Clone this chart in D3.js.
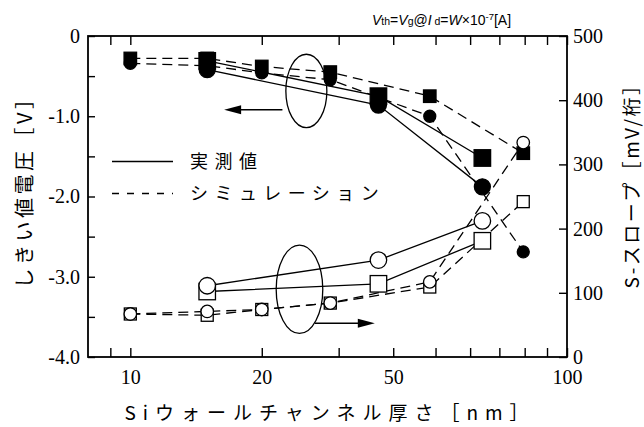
<!DOCTYPE html>
<html>
<head>
<meta charset="utf-8">
<script src="https://cdn.jsdelivr.net/npm/d3@7"></script>
<style>
  body { margin: 0; background: #fff; }
  svg { display: block; }
  .tick text { font-family: "Liberation Serif", serif; font-size: 20px; fill: #000; }
  .jp { font-family: "Noto Sans CJK JP", sans-serif; fill: #000; }
</style>
</head>
<body>
<svg width="644" height="427"></svg>
<script>
// measured (solid lines), Si wall channel thickness [nm]
var xMeas = [15, 37, 64];
var vthMeasSq = [-0.31, -0.75, -1.52];
var vthMeasCi = [-0.42, -0.86, -1.88];
var sMeasSq = [102, 114, 181];
var sMeasCi = [111, 151, 212];

// simulation (dashed lines)
var xSim = [10, 15, 20, 28.7, 48.5, 79.4];
var vthSimSq = [-0.28, -0.28, -0.38, -0.45, -0.75, -1.46];
var vthSimCi = [-0.34, -0.37, -0.46, -0.545, -1.0, -2.69];
var sSimSq = [67, 65, 74, 84, 109, 242];
var sSimCi = [67, 71, 74, 84, 117, 334];

var xTicks = [9, 10, 20, 30, 40, 50, 60, 70, 80, 90, 100];
var xTickLabels = {10: "10", 20: "20", 40: "50", 100: "100"};
var yLeftTicks = [0, -0.5, -1, -1.5, -2, -2.5, -3, -3.5, -4];
var yRightTicks = [0, 100, 200, 300, 400, 500];

var svg = d3.select("svg");
var L = 88, R = 567, T = 36, B = 357;

var x = d3.scaleLog().domain([8, 100]).range([L, R]);
var yL = d3.scaleLinear().domain([-4, 0]).range([B, T]);
var yR = d3.scaleLinear().domain([0, 500]).range([B, T]);

// axes (ticks point inward)
svg.append("g").attr("transform", "translate(0," + B + ")")
  .call(d3.axisBottom(x).tickValues(xTicks).tickSize(-9).tickPadding(13)
    .tickFormat(function(d) { return xTickLabels[d] || ""; }));
svg.append("g").attr("transform", "translate(0," + T + ")")
  .call(d3.axisTop(x).tickValues(xTicks).tickSize(-9).tickFormat(""));
svg.append("g").attr("transform", "translate(" + L + ",0)")
  .call(d3.axisLeft(yL).tickValues(yLeftTicks).tickSize(-7).tickPadding(8)
    .tickFormat(function(d) { return d % 1 !== 0 ? "" : (d === 0 ? "0" : d.toFixed(1)); }));
svg.append("g").attr("transform", "translate(" + R + ",0)")
  .call(d3.axisRight(yR).tickValues(yRightTicks).tickSize(-8).tickPadding(6));

svg.selectAll(".domain").remove();
svg.selectAll(".tick line").attr("stroke", "#000").attr("stroke-width", 1.4);
svg.append("rect").attr("x", L).attr("y", T).attr("width", R - L).attr("height", B - T)
  .attr("fill", "none").attr("stroke", "#000").attr("stroke-width", 1.8);

// series
function pts(xs, ys) { return xs.map(function(v, i) { return [v, ys[i]]; }); }

var series = [
  {d: pts(xSim, vthSimSq), y: yL, dash: true,  shape: "sq", fill: "#000", size: 12.5},
  {d: pts(xSim, vthSimCi), y: yL, dash: true,  shape: "ci", fill: "#000", size: 12},
  {d: pts(xSim, sSimSq),   y: yR, dash: true,  shape: "sq", fill: "#fff", size: 12},
  {d: pts(xSim, sSimCi),   y: yR, dash: true,  shape: "ci", fill: "#fff", size: 12.5},
  {d: pts(xMeas, vthMeasSq), y: yL, dash: false, shape: "sq", fill: "#000", size: 16.5},
  {d: pts(xMeas, vthMeasCi), y: yL, dash: false, shape: "ci", fill: "#000", size: 16},
  {d: pts(xMeas, sMeasSq),   y: yR, dash: false, shape: "sq", fill: "#fff", size: 16.5},
  {d: pts(xMeas, sMeasCi),   y: yR, dash: false, shape: "ci", fill: "#fff", size: 16.5}
];

series.forEach(function(s) {
  var line = d3.line().x(function(d) { return x(d[0]); }).y(function(d) { return s.y(d[1]); });
  svg.append("path").datum(s.d).attr("d", line)
    .attr("fill", "none").attr("stroke", "#000").attr("stroke-width", 1.3)
    .attr("stroke-dasharray", s.dash ? "10,6" : null);
});

series.forEach(function(s) {
  var g = svg.append("g");
  if (s.shape === "sq") {
    g.selectAll("rect").data(s.d).enter().append("rect")
      .attr("x", function(d) { return x(d[0]) - s.size / 2; })
      .attr("y", function(d) { return s.y(d[1]) - s.size / 2; })
      .attr("width", s.size).attr("height", s.size);
  } else {
    g.selectAll("circle").data(s.d).enter().append("circle")
      .attr("cx", function(d) { return x(d[0]); })
      .attr("cy", function(d) { return s.y(d[1]); })
      .attr("r", s.size / 2);
  }
  g.selectAll("*").attr("fill", s.fill).attr("stroke", "#000").attr("stroke-width", 1.3);
});

// ellipses and arrows
svg.append("ellipse").attr("cx", x(25.3)).attr("cy", yL(-0.685)).attr("rx", 20.5).attr("ry", 36.7)
  .attr("fill", "none").attr("stroke", "#000").attr("stroke-width", 1.3);
svg.append("ellipse").attr("cx", x(24.4)).attr("cy", yR(105.5)).attr("rx", 23.3).attr("ry", 44.2)
  .attr("fill", "none").attr("stroke", "#000").attr("stroke-width", 1.3);

function arrow(x1, x2, yy) {
  var dir = x2 > x1 ? 1 : -1;
  svg.append("line").attr("x1", x1).attr("x2", x2 - dir * 12).attr("y1", yy).attr("y2", yy)
    .attr("stroke", "#000").attr("stroke-width", 1.5);
  svg.append("path")
    .attr("d", "M" + x2 + "," + yy + "L" + (x2 - dir * 17) + "," + (yy - 4.5) + "L" + (x2 - dir * 17) + "," + (yy + 4.5) + "Z")
    .attr("fill", "#000");
}
arrow(x(22.3), x(16.4), yL(-0.92));
arrow(x(26.45), x(36.3), yR(52.5));

// legend
svg.append("line").attr("x1", 112).attr("x2", 173).attr("y1", 161.5).attr("y2", 161.5)
  .attr("stroke", "#000").attr("stroke-width", 1.3);
svg.append("line").attr("x1", 112).attr("x2", 173).attr("y1", 193.5).attr("y2", 193.5)
  .attr("stroke", "#000").attr("stroke-width", 1.3).attr("stroke-dasharray", "7,8");
svg.append("text").attr("class", "jp").attr("x", 190).attr("y", 168)
  .attr("font-size", 18).attr("letter-spacing", 6.5).text("実測値");
svg.append("text").attr("class", "jp").attr("x", 190).attr("y", 200)
  .attr("font-size", 18).attr("letter-spacing", 6.5).text("シミュレーション");

// axis titles
svg.append("text").attr("class", "jp").attr("x", 330).attr("y", 420)
  .attr("text-anchor", "middle").attr("font-size", 19).attr("letter-spacing", 7)
  .text("Siウォールチャンネル厚さ［nm］");
svg.append("text").attr("class", "jp").attr("transform", "translate(32,187) rotate(-90)")
  .attr("text-anchor", "middle").attr("font-size", 20).attr("letter-spacing", 3.5)
  .text("しきい値電圧［V］");
svg.append("text").attr("class", "jp").attr("transform", "translate(639,181) rotate(-90)")
  .attr("text-anchor", "middle").attr("font-size", 19).attr("letter-spacing", 2.5)
  .text("S-スロープ［mV/桁］");

// condition note
var note = svg.append("text").attr("x", 372).attr("y", 25)
  .attr("font-family", "Liberation Sans, sans-serif").attr("font-size", 14).attr("fill", "#000");
note.append("tspan").attr("font-style", "italic").text("V");
note.append("tspan").attr("font-size", 10.5).text("th");
note.append("tspan").text("=");
note.append("tspan").attr("font-style", "italic").text("V");
note.append("tspan").attr("font-size", 10.5).text("g");
note.append("tspan").text("@");
note.append("tspan").attr("font-style", "italic").text("I");
note.append("tspan").attr("font-size", 10.5).text(" d");
note.append("tspan").text("=");
note.append("tspan").attr("font-style", "italic").text("W");
note.append("tspan").text("×10");
note.append("tspan").attr("font-size", 9.5).attr("dy", -5).text("-7");
note.append("tspan").attr("dy", 5).text("[A]");
</script>
</body>
</html>
